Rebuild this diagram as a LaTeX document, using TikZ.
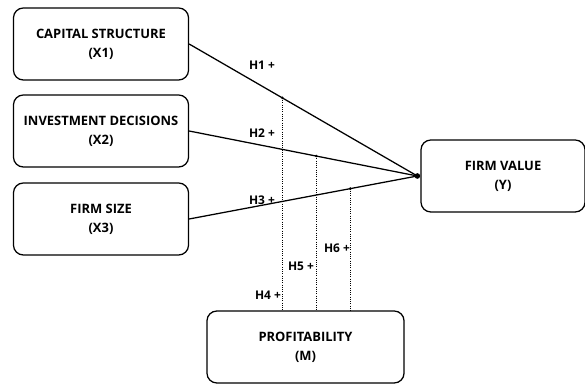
\documentclass[tikz,border=0pt]{standalone}
\usepackage{fontspec}
\setmainfont{Open Sans}
\usetikzlibrary{calc}

\begin{document}
\begin{tikzpicture}[x=0.025cm, y=-0.025cm,
  varbox/.style={draw, rounded corners=7pt, line width=0.9pt, minimum width=4.375cm,
    minimum height=1.8cm, align=center, inner sep=0pt,
    font=\bfseries\fontsize{9.2}{13.5}\selectfont},
  hyp/.style={font=\bfseries\fontsize{8.5}{10}\selectfont, inner sep=1pt},
  path/.style={line width=0.9pt},
  modpath/.style={densely dotted, line width=0.6pt}]
  \useasboundingbox (0,0) rectangle (585,385);

  % variables
  \node[varbox] (cs) at (101,44) {CAPITAL STRUCTURE\\(X1)};
  \node[varbox] (id) at (101,131) {INVESTMENT DECISIONS\\(X2)};
  \node[varbox] (fs) at (101,219) {FIRM SIZE\\(X3)};
  \node[varbox, minimum width=4.1cm] (fv) at (503,176) {FIRM VALUE\\(Y)};
  \node[varbox, minimum width=4.925cm] (pr) at (305.5,347) {PROFITABILITY\\(M)};

  \coordinate (hub) at ($(fv.west)+(-3,0)$);

  % direct paths
  \draw[path] (cs.east) -- (hub);
  \draw[path] (id.east) -- (hub);
  \draw[path] (fs.east) -- (hub);
  \fill (hub) circle (2pt);

  % moderation paths
  \coordinate (m1) at ($(cs.east)!0.408!(hub)$);
  \coordinate (m2) at ($(id.east)!0.557!(hub)$);
  \coordinate (m3) at ($(fs.east)!0.706!(hub)$);
  \foreach \m in {m1,m2,m3} {
    \draw[modpath] (\m) -- (\m |- pr.north);
    \fill (\m) circle (1pt);
  }

  % labels
  \node[hyp] (h1) at (262,65) {H1 +};
  \node[hyp] (h2) at (262,133) {H2 +};
  \node[hyp] (h3) at (262,200) {H3 +};
  \node[hyp] (h4) at (268,295) {H4 +};
  \node[hyp] (h5) at (301,266) {H5 +};
  \node[hyp] (h6) at (337,248) {H6 +};
\end{tikzpicture}
\end{document}
